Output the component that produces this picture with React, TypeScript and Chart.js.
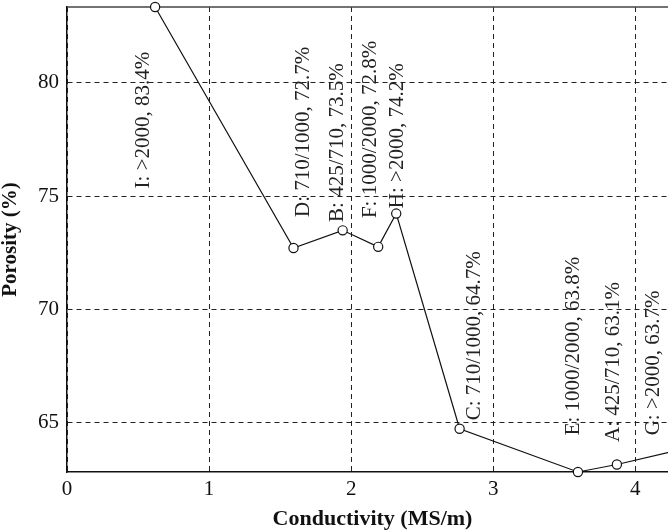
import React, { useEffect, useRef } from "react";
import { Chart, registerables } from "chart.js";

Chart.register(...registerables);

// ---- data ----
const pointIds = ["I", "D", "B", "F", "H", "C", "E", "A", "G"];
const conductivity = [0.62, 1.594, 1.94, 2.19, 2.317, 2.763, 3.596, 3.87, 4.28];
const porosity = [83.35, 72.71, 73.49, 72.76, 74.23, 64.73, 62.82, 63.15, 63.75];
const pointLabels = [
  "I: >2000, 83.4%",
  "D: 710/1000, 72.7%",
  "B: 425/710, 73.5%",
  "F: 1000/2000, 72.8%",
  "H: >2000, 74.2%",
  "C: 710/1000, 64.7%",
  "E: 1000/2000, 63.8%",
  "A: 425/710, 63.1%",
  "G: >2000, 63.7%",
];
// label anchors in data units (start of the vertical text)
const labelAnchorX = [0.58, 1.705, 1.945, 2.178, 2.368, 2.908, 3.602, 3.884, 4.166];
const labelAnchorY = [75.34, 74.08, 73.86, 74.03, 74.47, 65.1, 64.44, 64.15, 64.44];
const xTicks = [0, 1, 2, 3, 4];
const yTicks = [65, 70, 75, 80];
const xRange = [0, 4.3];
const yRange = [62.82, 83.35];
const xTitle = "Conductivity (MS/m)";
const yTitle = "Porosity (%)";

const FONT = "'Liberation Serif', 'Times New Roman', serif";

const topBorderPlugin = {
  id: "topBorder",
  beforeDatasetsDraw(chart: any) {
    const { ctx, chartArea } = chart;
    ctx.save();
    ctx.strokeStyle = "#444";
    ctx.lineWidth = 1.5;
    ctx.beginPath();
    ctx.moveTo(chartArea.left, chartArea.top);
    ctx.lineTo(chartArea.right, chartArea.top);
    ctx.stroke();
    ctx.restore();
  },
};

const pointLabelPlugin = {
  id: "pointLabels",
  afterDatasetsDraw(chart: any) {
    const { ctx } = chart;
    const xs = chart.scales.x;
    const ys = chart.scales.y;
    ctx.save();
    ctx.fillStyle = "#222";
    ctx.font = `21px ${FONT}`;
    ctx.textAlign = "left";
    ctx.textBaseline = "alphabetic";
    pointLabels.forEach((t, i) => {
      const px = xs.getPixelForValue(labelAnchorX[i]);
      const py = ys.getPixelForValue(labelAnchorY[i]);
      ctx.save();
      ctx.translate(px, py);
      ctx.rotate(-Math.PI / 2);
      ctx.fillText(t, 0, 0);
      ctx.restore();
    });
    ctx.restore();
  },
};

export default function App() {
  const ref = useRef<HTMLCanvasElement | null>(null);

  useEffect(() => {
    if (!ref.current) return;
    const chart = new Chart(ref.current, {
      type: "scatter",
      data: {
        datasets: [
          {
            label: "Porosity",
            data: conductivity.map((x, i) => ({ x, y: porosity[i] })),
            showLine: true,
            borderColor: "#111",
            borderWidth: 1.2,
            pointRadius: 4.6,
            pointBackgroundColor: "#fff",
            pointBorderColor: "#111",
            pointBorderWidth: 1.2,
            clip: false as any,
          } as any,
        ],
      },
      options: {
        animation: false,
        responsive: false,
        devicePixelRatio: 1,
        layout: { autoPadding: false, padding: { left: 0, right: 0, top: 7, bottom: 0 } } as any,
        plugins: {
          legend: { display: false },
          tooltip: { enabled: false },
        },
        scales: {
          x: {
            type: "linear",
            min: xRange[0],
            max: xRange[1],
            afterBuildTicks: (s: any) => {
              s.ticks = xTicks.map((v) => ({ value: v }));
            },
            afterFit: (s: any) => {
              s.height = 58;
              s.paddingLeft = 0;
              s.paddingRight = 0;
            },
            ticks: {
              color: "#111",
              font: { family: FONT, size: 21 },
              padding: 5,
              maxRotation: 0,
              callback: (v: any) => String(v),
            },
            grid: { color: "#222", lineWidth: 1, drawTicks: false },
            border: { color: "#111", width: 1.5, dash: [5, 4] },
            title: {
              display: true,
              text: xTitle,
              color: "#111",
              font: { family: FONT, size: 22, weight: "bold", lineHeight: 1 },
              padding: { top: 0, bottom: 0 },
            },
          },
          y: {
            type: "linear",
            min: yRange[0],
            max: yRange[1],
            afterBuildTicks: (s: any) => {
              s.ticks = yTicks.map((v) => ({ value: v }));
            },
            afterFit: (s: any) => {
              s.width = 67;
              s.paddingTop = 0;
              s.paddingBottom = 0;
            },
            ticks: {
              color: "#111",
              font: { family: FONT, size: 21 },
              padding: 8,
              callback: (v: any) => String(v),
            },
            grid: { color: "#222", lineWidth: 1, drawTicks: false },
            border: { color: "#111", width: 1.5, dash: [5, 4] },
            title: {
              display: true,
              text: yTitle,
              color: "#111",
              font: { family: FONT, size: 21, weight: "bold", lineHeight: 1 },
              padding: { top: 0, bottom: 0 },
            },
          },
        },
      },
      plugins: [topBorderPlugin, pointLabelPlugin],
    });
    return () => chart.destroy();
  }, []);

  return (
    <div
      style={{
        position: "fixed",
        left: 0,
        top: 0,
        width: 668,
        height: 530,
        overflow: "hidden",
        background: "#fff",
      }}
    >
      <canvas ref={ref} width={678} height={530} style={{ display: "block" }} />
    </div>
  );
}
